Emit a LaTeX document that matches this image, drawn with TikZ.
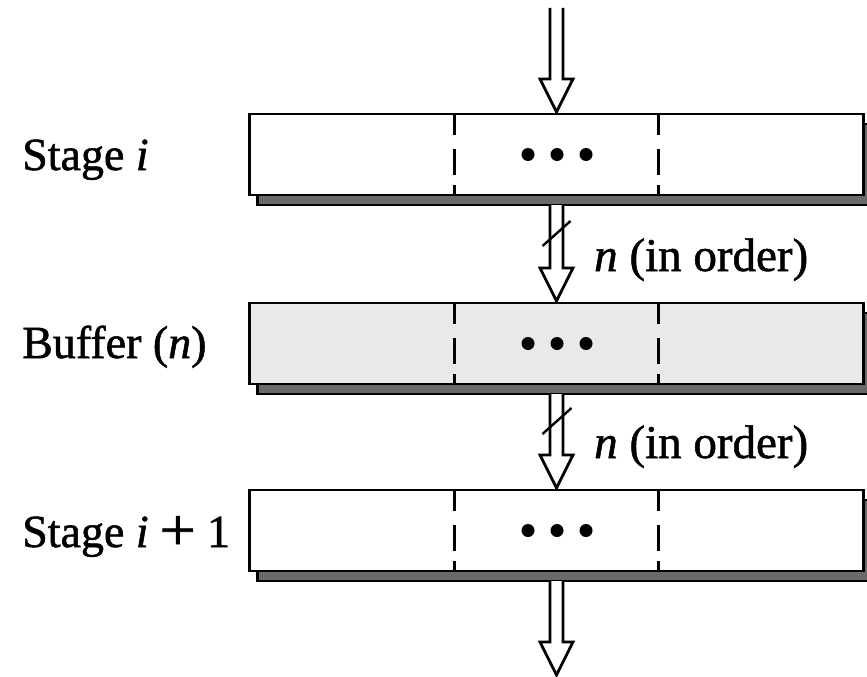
\documentclass[tikz,border=0pt]{standalone}
\usepackage{graphicx}
\usepackage{fontspec}
\setmainfont{Liberation Serif}[FakeBold=1.2]
\usetikzlibrary{calc,shadows}
\definecolor{shadowgray}{RGB}{105,105,105}
\definecolor{buffergray}{RGB}{233,233,233}
\tikzset{
  stagebox/.style={draw=black, line width=2.6pt, fill=white,
    minimum width=614pt, minimum height=81pt, inner sep=0pt, outer sep=0pt,
    drop shadow={shadow xshift=8pt, shadow yshift=-10pt, opacity=1,
      fill=shadowgray, draw=black, line width=2.6pt}},
  bufferbox/.style={stagebox, fill=buffergray},
  divider/.style={draw=black, line width=3pt,
    dash pattern=on 21pt off 14pt on 26pt off 10pt on 10pt off 0pt},
  arrowline/.style={draw=black, line width=2.8pt, line join=miter, fill=white},
  slashline/.style={draw=black, line width=2.4pt},
  sidelabel/.style={anchor=base west, inner sep=0pt, font=\fontsize{46}{55}\selectfont},
  flowlabel/.style={anchor=base west, inner sep=0pt, font=\fontsize{47}{55}\selectfont},
  dot/.style={fill=black}
}
\newcommand\hollowarrow[2]{%
  \path[arrowline] ($(#1)+(-6.5,0)$) -- ($(#2)+(-6.5,-33)$) -- ($(#2)+(-16.5,-33)$)
    -- (#2) -- ($(#2)+(16.5,-33)$) -- ($(#2)+(6.5,-33)$) -- ($(#1)+(6.5,0)$);%
}
\newcommand\boxinner[1]{%
  \draw[divider] ($(#1.north west)!1/3!(#1.north east)$) -- ($(#1.south west)!1/3!(#1.south east)$);
  \draw[divider] ($(#1.north west)!2/3!(#1.north east)$) -- ($(#1.south west)!2/3!(#1.south east)$);
  \fill[dot] ($(#1.center)+(-28.5,0)$) circle (6.5);
  \fill[dot] ($(#1.center)+(0.5,0)$) circle (6.5);
  \fill[dot] ($(#1.center)+(29.5,0)$) circle (6.5);%
}
\begin{document}
\begin{tikzpicture}[x=1pt,y=-1pt]
\useasboundingbox (0,0) rectangle (867,677);
\fill[white] (0,0) rectangle (867,677);
% boxes
\node[stagebox] (b1) at (556.5,154.5) {};
\node[bufferbox] (b2) at (556.5,343.5) {};
\node[stagebox] (b3) at (556.5,530.5) {};
\boxinner{b1}
\boxinner{b2}
\boxinner{b3}
% side labels
\node[sidelabel] (l1) at (22,170) {Stage \textit{i}};
\node[sidelabel] (l2) at (22,358) {Buffer (\textit{n})};
\node[sidelabel] (l3) at (22,547) {Stage \textit{i}\hspace{11pt}\raisebox{-3pt}{\scalebox{1.4}[1.3]{+}}\hspace{11pt}1};
% coordinates
\coordinate (in) at (556.5,8);
\coordinate (out) at (556.5,675);
\coordinate (s1) at ($(b1.south)+(0,10)$);
\coordinate (s2) at ($(b2.south)+(0,10)$);
\coordinate (s3) at ($(b3.south)+(0,10)$);
\coordinate (t1) at ($(b1.north)+(0,-2)$);
\coordinate (t2) at ($(b2.north)+(0,-2)$);
\coordinate (t3) at ($(b3.north)+(0,-2)$);
% arrows
\hollowarrow{in}{t1}
\hollowarrow{s1}{t2}
\hollowarrow{s2}{t3}
\hollowarrow{s3}{out}
% slashes
\draw[slashline] ($(s1)+(-14,41)$) -- ($(s1)+(14,16)$);
\draw[slashline] ($(s2)+(-14,40)$) -- ($(s2)+(15,14)$);
% flow labels
\node[flowlabel] (f1) at (594,271) {\textit{n} (in order)};
\node[flowlabel] (f2) at (594,458) {\textit{n} (in order)};
\end{tikzpicture}
\end{document}
